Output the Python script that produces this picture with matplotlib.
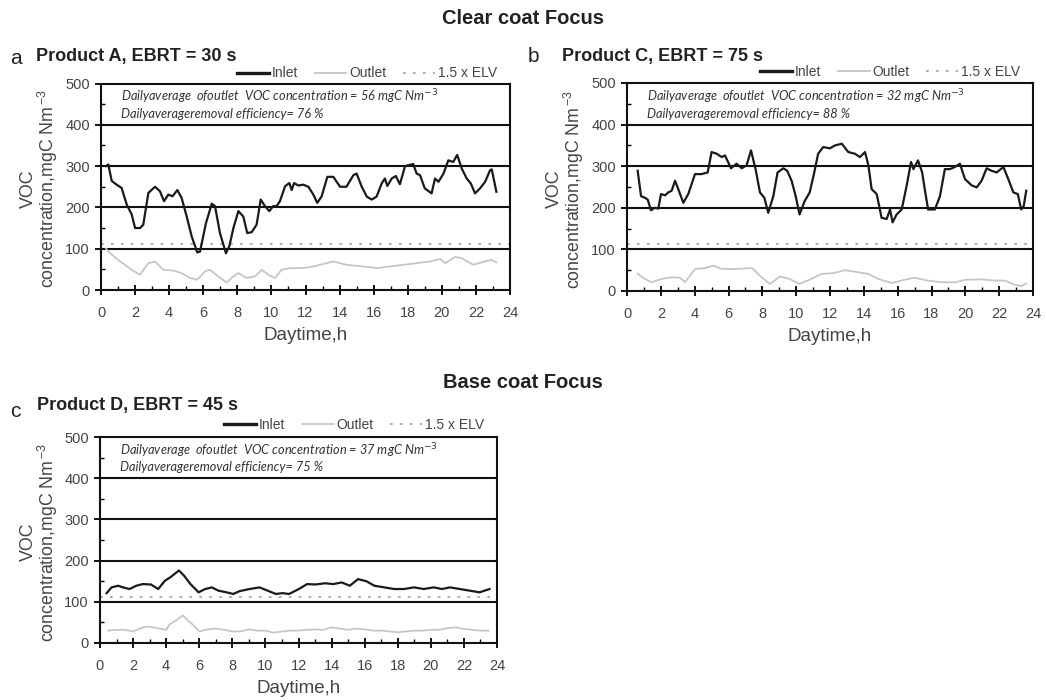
import matplotlib
matplotlib.use("Agg")
import matplotlib.pyplot as plt
from matplotlib.ticker import MultipleLocator

plt.rcParams["font.family"] = ["Liberation Sans", "DejaVu Sans"]

# ---------------- data ----------------
elv = 112.5  # 1.5 x emission limit value, mgC Nm-3

# Product A, EBRT = 30 s
a_in_h = [0.3, 0.43, 0.63, 0.92, 1.21, 1.51, 1.8, 2.0, 2.29, 2.48, 2.78, 3.17, 3.46, 3.7, 3.95,
          4.2, 4.48, 4.73, 5.03, 5.32, 5.65, 5.81, 6.16, 6.5, 6.69, 6.98, 7.33, 7.53, 7.77, 8.06,
          8.35, 8.58, 8.84, 9.13, 9.37, 9.62, 9.88, 10.1, 10.3, 10.5, 10.8, 11.05, 11.19, 11.33,
          11.58, 11.87, 12.17, 12.46, 12.69, 12.95, 13.28, 13.63, 14.03, 14.4, 14.81, 15.0, 15.3,
          15.6, 15.88, 16.17, 16.47, 16.66, 16.8, 17.06, 17.3, 17.54, 17.84, 18.03, 18.32, 18.52,
          18.72, 19.0, 19.4, 19.6, 19.8, 20.1, 20.38, 20.67, 20.9, 21.17, 21.46, 21.7, 21.95,
          22.24, 22.54, 22.83, 22.93, 23.2]
a_in = [300, 304, 264, 255, 247, 207, 183, 150, 150, 158, 235, 250, 239, 215, 231,
        227, 242, 223, 178, 130, 91, 93, 162, 209, 203, 138, 89, 106, 150, 191,
        178, 138, 140, 158, 219, 203, 191, 203, 203, 215, 251, 259, 242, 259,
        253, 255, 250, 231, 211, 227, 274, 274, 250, 250, 278, 282, 250,
        226, 219, 226, 258, 270, 252, 270, 276, 256, 300, 302, 305, 282,
        278, 246, 234, 270, 262, 282, 314, 310, 327, 294, 270, 258, 234,
        246, 262, 290, 292, 238]
a_out_h = [0.3, 0.43, 1.0, 1.8, 2.29, 2.78, 3.17, 3.66, 4.25, 4.73, 5.22, 5.65, 6.1, 6.39, 6.88,
           7.37, 7.77, 8.06, 8.55, 9.04, 9.43, 9.82, 10.2, 10.6, 11.08, 11.87, 12.46, 12.85,
           13.24, 13.63, 14.4, 15.4, 16.2, 16.96, 17.74, 18.5, 19.3, 19.9, 20.2, 20.77, 21.16,
           21.85, 22.33, 22.9, 23.2]
a_out = [100, 93, 73, 49, 37, 65, 69, 49, 47, 41, 29, 25, 45, 49, 33,
         18, 33, 41, 29, 33, 49, 37, 29, 49, 53, 53, 57, 61,
         65, 69, 61, 57, 53, 57, 61, 65, 69, 75, 65, 80, 77,
         61, 67, 73, 67]

# Product C, EBRT = 75 s
b_in_h = [0.63, 0.83, 1.06, 1.22, 1.42, 1.65, 1.85, 2.01, 2.25, 2.44, 2.64, 2.84, 3.03, 3.33, 3.62,
          4.02, 4.41, 4.77, 5.0, 5.3, 5.6, 5.79, 6.15, 6.48, 6.78, 7.07, 7.33, 7.6, 7.86, 8.12,
          8.35, 8.65, 8.9, 9.24, 9.47, 9.73, 9.97, 10.2, 10.5, 10.8, 11.07, 11.3, 11.6, 12.0,
          12.3, 12.7, 13.08, 13.47, 13.77, 14.07, 14.27, 14.46, 14.76, 15.05, 15.35, 15.55,
          15.7, 15.94, 16.24, 16.53, 16.79, 16.93, 17.2, 17.45, 17.6, 17.8, 18.2, 18.5, 18.79,
          19.09, 19.38, 19.68, 19.98, 20.37, 20.67, 20.96, 21.26, 21.55, 21.85, 22.25, 22.54,
          22.84, 23.1, 23.3, 23.45, 23.6]
b_in = [289, 228, 224, 220, 194, 200, 198, 233, 230, 237, 241, 265, 245, 212, 233,
        281, 281, 285, 334, 330, 322, 326, 295, 306, 295, 302, 338, 293, 237, 224,
        188, 228, 285, 295, 289, 265, 228, 184, 216, 237, 285, 330, 346, 343,
        350, 354, 334, 330, 322, 334, 302, 245, 233, 176, 173, 196,
        165, 184, 196, 253, 310, 293, 314, 285, 245, 196, 196, 228, 293,
        293, 298, 306, 269, 254, 249, 265, 295, 289, 285, 298, 269,
        237, 233, 196, 204, 241]
b_out_h = [0.63, 1.06, 1.46, 2.05, 2.64, 3.13, 3.43, 4.02, 4.6, 5.1, 5.6, 6.4, 7.4, 7.96, 8.45,
           9.04, 9.6, 10.2, 10.9, 11.5, 12.2, 12.9, 13.67, 14.27, 14.86, 15.65, 16.4, 17.0, 17.8,
           18.6, 19.4, 20.0, 20.96, 21.75, 22.35, 22.9, 23.3, 23.6]
b_out = [41, 29, 21, 29, 33, 32, 21, 53, 55, 61, 53, 53, 55, 33, 17,
         35, 29, 17, 29, 41, 43, 50, 45, 41, 29, 19, 27, 32, 25,
         21, 21, 27, 28, 25, 25, 15, 12, 18]

# Product D, EBRT = 45 s
c_in_h = [0.4, 0.7, 1.1, 1.39, 1.79, 2.19, 2.59, 3.08, 3.52, 3.92, 4.27, 4.77, 5.07, 5.47, 5.96,
          6.36, 6.76, 7.16, 7.65, 8.05, 8.45, 9.04, 9.64, 10.14, 10.63, 11.03, 11.43, 12.02,
          12.52, 13.02, 13.61, 14.11, 14.61, 15.1, 15.6, 16.1, 16.59, 17.19, 17.79, 18.38,
          18.98, 19.57, 20.17, 20.67, 21.16, 21.76, 22.36, 22.95, 23.55]
c_in = [121, 135, 139, 135, 131, 139, 143, 142, 131, 151, 160, 176, 164, 143, 123,
        131, 135, 127, 123, 119, 126, 131, 135, 127, 119, 121, 119, 131,
        143, 142, 145, 143, 147, 139, 155, 150, 139, 135, 131, 131,
        135, 131, 135, 131, 135, 131, 127, 123, 131]
c_out_h = [0.5, 1.0, 1.5, 2.0, 2.4, 2.8, 3.2, 3.6, 4.0, 4.2, 4.6, 5.0, 5.3, 5.6, 6.0, 6.5, 7.0,
           7.5, 8.0, 8.5, 9.0, 9.5, 10.0, 10.5, 11.0, 11.5, 12.0, 12.5, 13.0, 13.5, 14.0, 14.5,
           15.0, 15.5, 16.0, 16.5, 17.0, 17.5, 18.0, 18.5, 19.0, 19.5, 20.0, 20.5, 21.0, 21.5,
           22.0, 22.5, 23.0, 23.5]
c_out = [30, 32, 32, 28, 35, 40, 38, 35, 32, 45, 55, 67, 55, 45, 28, 33, 35,
         32, 28, 28, 33, 30, 30, 25, 28, 30, 30, 32, 33, 32, 38, 35,
         32, 35, 33, 30, 30, 28, 26, 28, 30, 30, 32, 32, 36, 38,
         34, 32, 30, 30]

panel_letters = ["a", "b", "c"]
panel_titles = ["Product A, EBRT = 30 s", "Product C, EBRT = 75 s", "Product D, EBRT = 45 s"]
outlet_avg = ["56", "32", "37"]
removal_eff = ["76", "88", "75"]
x_ticks = list(range(0, 25, 2))
y_ticks = list(range(0, 501, 100))

# ---------------- figure ----------------
W, H = 1046.0, 700.0
fig = plt.figure(figsize=(W / 100, H / 100), dpi=100)


def box(l, t, r, b):
    return [l / W, 1 - b / H, (r - l) / W, (b - t) / H]


def px(x, y):
    return x / W, 1 - y / H


axes_boxes = [box(101, 83.5, 510, 290), box(627, 83, 1033, 291), box(100, 437, 497, 643)]
series = [(a_in_h, a_in, a_out_h, a_out), (b_in_h, b_in, b_out_h, b_out),
          (c_in_h, c_in, c_out_h, c_out)]
# positions (pixels) of panel letter and heading
letter_xy = [(10, 58), (528, 57), (10, 411)]
title_xy = [(36, 56), (562, 56), (37, 405)]
legend_y = [1.015, 1.02, 1.025]

text_col = "#222222"
tick_col = "#444444"

for i, (rect, (ih, iv, oh, ov)) in enumerate(zip(axes_boxes, series)):
    ax = fig.add_axes(rect)
    for yv in y_ticks[1:-1]:
        ax.axhline(yv, color="#111111", lw=1.5, zorder=1)
    ln_in, = ax.plot(ih, iv, color="#1a1a1a", lw=1.6, zorder=4, label="Inlet")
    ln_out, = ax.plot(oh, ov, color="#c6c6c6", lw=1.3, zorder=3, label="Outlet")
    ln_elv = ax.axhline(elv, color="#a8a8a8", lw=1.3, ls=(0, (1.5, 4)), zorder=2,
                        label="1.5 x ELV")
    ax.set_xlim(0, 24)
    ax.set_ylim(0, 500)
    ax.set_xticks(x_ticks)
    ax.set_yticks(y_ticks)
    ax.xaxis.set_minor_locator(MultipleLocator(1))
    ax.yaxis.set_minor_locator(MultipleLocator(50))
    ax.tick_params(axis="x", which="major", direction="inout", length=7, width=1.3,
                   labelsize=10.5, labelcolor=tick_col, pad=8)
    ax.tick_params(axis="x", which="minor", direction="in", length=3, width=1.0)
    ax.tick_params(axis="y", which="major", direction="out", length=4, width=1.3,
                   labelsize=10.5, labelcolor=tick_col, pad=4)
    ax.tick_params(axis="y", which="minor", direction="in", length=3, width=1.0)
    for s in ax.spines.values():
        s.set_linewidth(1.5)
        s.set_color("#111111")
    ax.set_xlabel("Daytime,h", fontsize=13.5, color=tick_col, labelpad=5)
    ax.set_ylabel("VOC\nconcentration,mgC Nm$^{\\,\\mathregular{-3}}$", fontsize=12.8,
                  color=tick_col, linespacing=0.95)
    ax.yaxis.set_label_coords(-0.1, 0.49)

    leg = ax.legend(handles=[ln_in, ln_out, ln_elv], loc="lower right",
                    bbox_to_anchor=(0.968, legend_y[i]), ncol=3, frameon=False, fontsize=10,
                    handlelength=2.3, handletextpad=0.2, columnspacing=1.2,
                    borderaxespad=0.0, borderpad=0.0)
    for t in leg.get_texts():
        t.set_color(tick_col)
    leg.get_lines()[0].set_linewidth(2.4)

    ax.text(0.05, 0.935,
            "Dailyaverage  ofoutlet  VOC concentration = " + outlet_avg[i] + " mgC Nm$^{-3}$",
            transform=ax.transAxes, fontsize=9.2, style="italic", family="Lato",
            color="#333333", va="center", ha="left")
    ax.text(0.05, 0.853, "Dailyaverageremoval efficiency= " + removal_eff[i] + " %",
            transform=ax.transAxes, fontsize=9.2, style="italic", family="Lato",
            color="#333333", va="center", ha="left")

    fig.text(*px(*letter_xy[i]), panel_letters[i], fontsize=15, color=text_col,
             va="center", ha="left")
    fig.text(*px(*title_xy[i]), panel_titles[i], fontsize=13, fontweight="bold",
             color=text_col, va="center", ha="left")

fig.text(*px(523, 18), "Clear coat Focus", fontsize=14.5, fontweight="bold",
         color=text_col, ha="center", va="center")
fig.text(*px(523, 382), "Base coat Focus", fontsize=14.5, fontweight="bold",
         color=text_col, ha="center", va="center")

fig.savefig("out.png", dpi=100)
